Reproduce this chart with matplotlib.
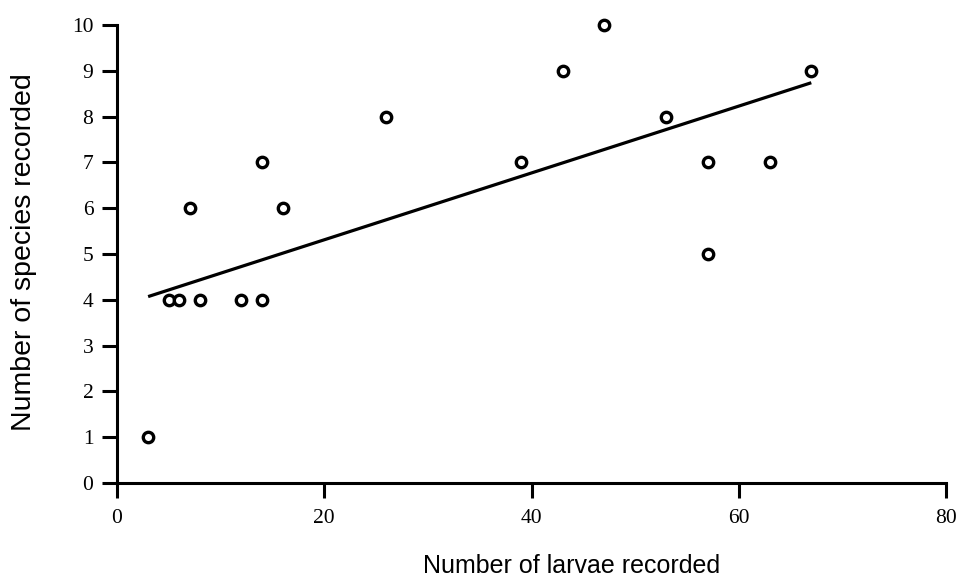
import matplotlib
matplotlib.use("Agg")
import matplotlib.pyplot as plt

# larvae count vs species count, one point per site
larvae = [3, 5, 6, 8, 12, 14, 7, 14, 16, 26, 39, 43, 47, 53, 57, 57, 63, 67]
species = [1, 4, 4, 4, 4, 4, 6, 7, 6, 8, 7, 9, 10, 8, 7, 5, 7, 9]

# regression line end points
fit_x = [3, 67]
fit_y = [4.07, 8.74]

x_ticks = [0, 20, 40, 60, 80]
y_ticks = list(range(0, 11))

fig = plt.figure(figsize=(9.57, 5.86), dpi=100)
ax = fig.add_axes([0.1223, 0.1758, 0.8662, 0.7815])

ax.plot(fit_x, fit_y, color="black", lw=2.3, solid_capstyle="butt")
ax.plot(larvae, species, "o", ms=7.5, mfc="white", mec="black", mew=2.4,
        zorder=3, clip_on=False)

ax.set_xlim(0, 80)
ax.set_ylim(0, 10)
ax.set_xticks(x_ticks)
ax.set_yticks(y_ticks)

for s in ["top", "right"]:
    ax.spines[s].set_visible(False)
for s in ["left", "bottom"]:
    ax.spines[s].set_linewidth(2.2)

ax.tick_params(axis="both", direction="out", length=11, width=2.2, colors="black",
               labelsize=15.5, labelfontfamily="Liberation Serif")
ax.tick_params(axis="x", pad=8)
ax.tick_params(axis="y", pad=6)

ax.set_xlabel("Number of larvae recorded", fontfamily="Liberation Sans", fontsize=18)
ax.set_ylabel("Number of species recorded", fontfamily="Liberation Sans", fontsize=20.5)
ax.xaxis.set_label_coords(0.548, -0.155)
ax.yaxis.set_label_coords(-0.112, 0.504)
ax.yaxis.label.set_va("center")

fig.savefig("out.png", dpi=100, facecolor="white")
